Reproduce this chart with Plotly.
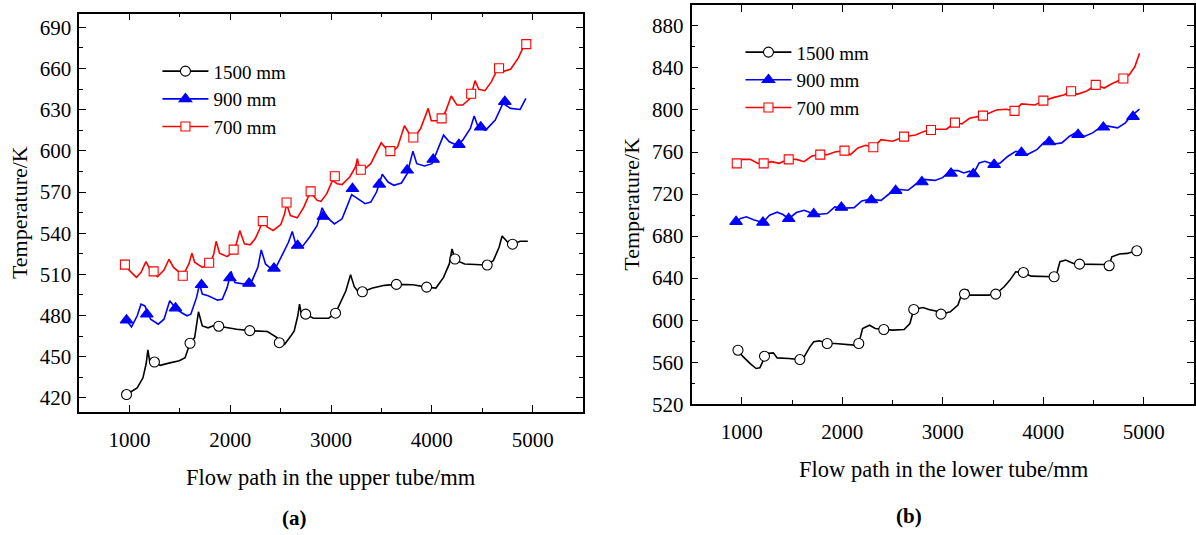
import plotly.graph_objects as go

# ---------------- (a) upper tube ----------------
a_1500_x = [970, 1076, 1133, 1165, 1182, 1200, 1247, 1304, 1400, 1494, 1551, 1600, 1646, 1684, 1722, 1779, 1830, 1885,
            2064, 2193, 2368, 2463, 2486, 2539, 2600, 2634, 2670, 2687, 2710, 2748, 2824, 2976, 3044, 3100, 3147, 3193,
            3230, 3261, 3310, 3413, 3530, 3648, 3812, 3948, 4040, 4116, 4173, 4200, 4229, 4249, 4325, 4534, 4610, 4667,
            4697, 4762, 4800, 4876, 4952]
a_1500_y = [422.4, 427.3, 434.6, 445.0, 454.9, 446.5, 446.1, 443.7, 445.5, 447.0, 449.3, 459.8, 463.9, 482.7, 472.4, 471.0,
            472.5, 472.2, 470.0, 469.0, 468.3, 463.9, 460.2, 459.0, 465.0, 468.8, 480.0, 488.3, 478.5, 481.0, 478.0, 478.0,
            481.7, 490.0, 498.0, 509.8, 501.0, 498.0, 497.3, 500.0, 502.0, 502.7, 502.4, 500.7, 500.0, 507.8, 517.6, 528.5,
            521.2, 520.0, 517.6, 516.8, 520.0, 529.8, 538.0, 532.7, 532.0, 534.1, 534.1]
a_1500_mx = [970, 1247, 1600, 1885, 2193, 2486, 2748, 3044, 3310, 3648, 3948, 4229, 4549, 4800]
a_1500_my = [422.4, 446.1, 459.8, 472.2, 469.0, 460.2, 481.0, 481.7, 497.3, 502.7, 500.7, 521.2, 516.8, 532.0]

a_900_x = [970, 1019, 1076, 1114, 1152, 1209, 1285, 1342, 1399, 1437, 1456, 1513, 1570, 1608, 1665, 1695, 1722, 1779,
           1874, 1920, 1969, 2007, 2045, 2140, 2186, 2216, 2273, 2307, 2349, 2387, 2444, 2520, 2577, 2615, 2653, 2710,
           2786, 2862, 2911, 2957, 3033, 3109, 3166, 3204, 3242, 3337, 3394, 3451, 3508, 3565, 3622, 3698, 3755, 3774,
           3812, 3850, 3926, 4002, 4059, 4116, 4173, 4249, 4306, 4382, 4420, 4458, 4534, 4629, 4705, 4781, 4876, 4933]
a_900_y = [476.6, 471.7, 479.8, 488.3, 487.0, 477.3, 473.7, 477.3, 490.7, 487.0, 485.4, 482.2, 479.8, 481.0, 493.2, 503.0,
           495.6, 494.4, 491.2, 491.9, 500.5, 512.2, 504.1, 502.9, 503.4, 505.4, 515.1, 527.8, 517.6, 515.1, 513.9, 524.9,
           533.4, 541.2, 531.0, 529.8, 537.1, 545.6, 558.5, 551.7, 546.8, 550.5, 561.5, 568.0, 566.3, 561.5, 562.7, 570.0,
           582.9, 577.3, 574.9, 576.6, 583.4, 588.3, 599.8, 590.7, 589.0, 590.7, 600.5, 611.5, 606.6, 604.1, 607.8, 616.3,
           625.4, 617.6, 615.1, 622.4, 634.6, 631.0, 630.2, 638.3]
a_900_mx = [970, 1171, 1456, 1714, 1996, 2186, 2433, 2668, 2923, 3212, 3478, 3755, 4013, 4268, 4485, 4724]
a_900_my = [476.6, 481.0, 485.4, 502.4, 507.3, 503.4, 514.4, 531.0, 552.2, 572.4, 575.6, 585.9, 593.7, 604.6, 617.3, 635.9]

a_700_x = [954, 1000, 1068, 1114, 1163, 1201, 1277, 1342, 1391, 1437, 1494, 1551, 1589, 1619, 1646, 1722, 1798, 1836,
           1859, 1893, 1969, 2033, 2064, 2094, 2140, 2197, 2246, 2292, 2322, 2368, 2425, 2501, 2539, 2558, 2596, 2664,
           2729, 2786, 2816, 2862, 2900, 2957, 3014, 3060, 3109, 3185, 3242, 3261, 3280, 3337, 3394, 3451, 3497, 3546,
           3603, 3660, 3698, 3728, 3774, 3831, 3888, 3934, 3964, 3994, 4078, 4135, 4192, 4249, 4306, 4382, 4428, 4466,
           4527, 4591, 4648, 4705, 4781, 4857, 4914, 4944]
a_700_y = [517.1, 512.7, 507.8, 511.5, 519.3, 513.9, 508.3, 513.2, 521.0, 515.1, 511.5, 512.2, 517.6, 525.4, 518.8, 515.1,
           517.6, 524.9, 534.1, 525.4, 522.9, 526.8, 533.4, 541.9, 532.2, 531.5, 535.9, 543.2, 549.3, 544.4, 542.0, 546.3,
           554.1, 561.5, 552.9, 551.2, 559.0, 568.8, 568.0, 563.9, 563.2, 568.8, 578.5, 576.1, 575.4, 581.0, 588.3, 594.4,
           587.1, 587.1, 590.7, 599.3, 605.9, 601.7, 598.8, 602.9, 611.5, 618.3, 612.7, 610.2, 616.3, 626.1, 631.0, 622.0,
           622.0, 628.5, 640.0, 633.4, 633.4, 638.3, 651.2, 644.9, 643.9, 650.5, 659.0, 657.8, 659.5, 667.6, 676.1, 681.5]
a_700_mx = [954, 1239, 1528, 1790, 2033, 2322, 2558, 2797, 3037, 3295, 3588, 3816, 4097, 4390, 4667, 4937]
a_700_my = [517.1, 512.2, 509.0, 518.5, 528.0, 548.8, 562.4, 570.5, 581.5, 586.3, 599.8, 609.8, 623.7, 641.7, 660.2, 677.8]

# ---------------- (b) lower tube ----------------
b_1500_x = [962, 1008, 1084, 1142, 1180, 1218, 1245, 1314, 1352, 1467, 1578, 1620, 1678, 1716, 1773, 1850, 1926, 2118,
            2164, 2202, 2271, 2328, 2413, 2500, 2615, 2673, 2711, 2804, 2861, 2976, 2983, 3075, 3151, 3197, 3247, 3266,
            3457, 3527, 3611, 3668, 3726, 3802, 3879, 4032, 4108, 4139, 4166, 4223, 4300, 4361, 4453, 4606, 4656, 4682,
            4759, 4836, 4893, 4931]
b_1500_y = [571.4, 565.7, 558.7, 554.0, 554.6, 561.9, 568.3, 568.9, 564.1, 563.5, 562.5, 565.1, 574.6, 579.4, 580.3, 577.8,
            577.8, 576.2, 577.8, 592.1, 595.2, 592.1, 591.1, 590.5, 591.1, 596.8, 610.2, 612.0, 610.2, 607.9, 605.7, 607.9,
            614.3, 627.0, 628.6, 623.8, 623.8, 624.8, 631.8, 638.1, 646.0, 645.4, 641.9, 641.9, 641.3, 646.0, 655.6, 657.2,
            654.0, 653.3, 653.3, 653.0, 651.8, 660.3, 662.9, 663.5, 665.1, 666.0]
b_1500_mx = [962, 1226, 1578, 1850, 2164, 2413, 2711, 2983, 3216, 3527, 3802, 4108, 4361, 4656, 4931]
b_1500_my = [571.4, 565.7, 562.5, 577.8, 577.8, 591.1, 610.2, 605.7, 624.8, 624.8, 645.4, 641.3, 653.3, 651.8, 666.0]

b_900_x = [943, 989, 1046, 1123, 1211, 1276, 1352, 1410, 1467, 1544, 1620, 1678, 1773, 1850, 1926, 2003, 2118, 2194,
           2271, 2386, 2462, 2539, 2654, 2730, 2807, 2922, 2999, 3075, 3151, 3209, 3266, 3304, 3362, 3419, 3511, 3572,
           3649, 3726, 3841, 3937, 4013, 4108, 4185, 4262, 4319, 4415, 4491, 4587, 4644, 4740, 4817, 4874, 4958]
b_900_y = [693.7, 696.8, 698.4, 695.3, 693.0, 699.8, 702.7, 700.5, 696.5, 702.4, 704.6, 702.4, 700.8, 701.4, 707.8, 706.5,
           707.1, 713.5, 715.0, 714.0, 719.8, 724.6, 723.6, 729.3, 734.0, 733.0, 735.6, 742.3, 742.3, 740.1, 741.7, 739.1,
           749.6, 751.2, 748.0, 749.6, 756.0, 760.7, 757.6, 762.3, 769.6, 767.7, 768.7, 775.0, 778.2, 775.0, 778.2, 784.6,
           784.6, 783.0, 787.8, 794.2, 800.7]
b_900_mx = [943, 1211, 1467, 1716, 1991, 2290, 2531, 2792, 3082, 3304, 3511, 3783, 4059, 4346, 4598, 4893]
b_900_my = [693.7, 693.0, 696.5, 701.0, 707.3, 714.3, 723.2, 731.5, 739.7, 739.1, 748.0, 759.4, 769.6, 776.5, 783.5, 793.7]

b_700_x = [950, 1008, 1084, 1161, 1218, 1295, 1371, 1467, 1544, 1620, 1697, 1781, 1850, 1926, 2022, 2080, 2156, 2233,
           2309, 2386, 2500, 2615, 2730, 2807, 2883, 3037, 3121, 3190, 3266, 3400, 3534, 3630, 3714, 3783, 3917, 4001,
           4108, 4204, 4277, 4338, 4434, 4522, 4606, 4682, 4797, 4855, 4912, 4958]
b_700_y = [749.2, 753.0, 753.0, 749.2, 749.2, 750.8, 749.2, 753.0, 753.0, 750.8, 756.2, 757.5, 757.5, 760.0, 761.3, 757.5,
           763.9, 766.4, 764.5, 771.8, 770.2, 774.6, 776.2, 779.4, 781.7, 781.7, 788.0, 786.7, 792.1, 794.6, 800.0, 800.7,
           799.1, 805.8, 804.8, 808.9, 812.0, 814.3, 817.8, 814.9, 818.1, 823.9, 820.9, 825.0, 829.9, 833.4, 841.3, 854.0]
b_700_mx = [950, 1218, 1467, 1781, 2022, 2309, 2615, 2883, 3121, 3400, 3714, 4001, 4277, 4522, 4797]
b_700_my = [749.2, 749.2, 753.0, 757.5, 761.3, 764.5, 774.6, 781.0, 788.0, 794.6, 799.1, 808.9, 817.8, 823.9, 829.9]

series_names = ["1500 mm", "900 mm", "700 mm"]
colors = ["#000000", "#0000FF", "#FF0000"]
symbols = ["circle", "triangle-up", "square"]
fills = ["#FFFFFF", "#0000FF", "#FFFFFF"]
msizes = [10, 11, 9]

FONT = "Liberation Serif"

fig = go.Figure()

def add_series(xl, yl, xm, ym, k, xa, ya, legend_name):
    fig.add_trace(go.Scatter(x=xl, y=yl, mode="lines", xaxis=xa, yaxis=ya,
                             line=dict(color=colors[k], width=1.6), showlegend=False, hoverinfo="skip"))
    fig.add_trace(go.Scatter(x=xm, y=ym, mode="markers", xaxis=xa, yaxis=ya, showlegend=False,
                             marker=dict(symbol=symbols[k], size=msizes[k], color=fills[k],
                                         line=dict(color=colors[k], width=1.1))))
    fig.add_trace(go.Scatter(x=[None], y=[None], mode="lines+markers", xaxis=xa, yaxis=ya,
                             name=series_names[k], legend=legend_name,
                             line=dict(color=colors[k], width=1.6),
                             marker=dict(symbol=symbols[k], size=msizes[k], color=fills[k],
                                         line=dict(color=colors[k], width=1.1))))

add_series(a_1500_x, a_1500_y, a_1500_mx, a_1500_my, 0, "x", "y", "legend")
add_series(a_900_x, a_900_y, a_900_mx, a_900_my, 1, "x", "y", "legend")
add_series(a_700_x, a_700_y, a_700_mx, a_700_my, 2, "x", "y", "legend")
add_series(b_1500_x, b_1500_y, b_1500_mx, b_1500_my, 0, "x2", "y2", "legend2")
add_series(b_900_x, b_900_y, b_900_mx, b_900_my, 1, "x2", "y2", "legend2")
add_series(b_700_x, b_700_y, b_700_mx, b_700_my, 2, "x2", "y2", "legend2")

W, H = 1196, 535

def axis_common(**kw):
    d = dict(showline=True, linecolor="black", linewidth=1.5, mirror="allticks",
             ticks="inside", ticklen=7, tickwidth=1.3, tickcolor="black",
             showgrid=False, zeroline=False,
             tickfont=dict(family=FONT, size=21, color="black"),
             minor=dict(ticks="inside", ticklen=4, tickwidth=1.2, tickcolor="black", showgrid=False))
    d.update(kw)
    return d

xa = axis_common(range=[500, 5500], dtick=1000, tick0=0, domain=[79.3 / W, 584 / W], anchor="y",
                 ticklabelstandoff=8)
xa["minor"]["dtick"] = 500
ya = axis_common(range=[410, 700], dtick=30, tick0=0, domain=[(H - 421) / H, (H - 14) / H], anchor="x",
                 ticklabelstandoff=2)
ya["minor"]["dtick"] = 15
xa2 = axis_common(range=[500, 5500], dtick=1000, tick0=0, domain=[692.7 / W, 1.0], anchor="y2",
                  ticklabelstandoff=8)
xa2["minor"]["dtick"] = 500
ya2 = axis_common(range=[520, 900], dtick=40, tick0=0, domain=[(H - 413.5) / H, (H - 5) / H], anchor="x2",
                  ticklabelstandoff=2)
ya2["minor"]["dtick"] = 20

legend_common = dict(font=dict(family=FONT, size=19, color="black"), bgcolor="rgba(0,0,0,0)",
                     borderwidth=0, itemwidth=46, xanchor="left", yanchor="top",
                     itemclick=False, itemdoubleclick=False)

fig.update_layout(
    width=W, height=H, margin=dict(l=0, r=0, t=0, b=0),
    paper_bgcolor="white", plot_bgcolor="white",
    xaxis=xa, yaxis=ya, xaxis2=xa2, yaxis2=ya2,
    legend=dict(x=157.7 / W, y=(H - 53.5) / H, **legend_common),
    legend2=dict(x=741.7 / W, y=(H - 34) / H, **legend_common),
    annotations=[
        dict(text="Flow path in the upper tube/mm", x=331.5 / W, y=(H - 488) / H, xref="paper", yref="paper",
             showarrow=False, font=dict(family=FONT, size=22.5, color="black"), xanchor="center", yanchor="middle"),
        dict(text="Temperature/K", x=19 / W, y=(H - 217) / H, xref="paper", yref="paper", textangle=-90,
             showarrow=False, font=dict(family=FONT, size=22, color="black"), xanchor="center", yanchor="middle"),
        dict(text="Flow path in the lower tube/mm", x=945.6 / W, y=(H - 480) / H, xref="paper", yref="paper",
             showarrow=False, font=dict(family=FONT, size=22.5, color="black"), xanchor="center", yanchor="middle"),
        dict(text="Temperature/K", x=632.5 / W, y=(H - 209) / H, xref="paper", yref="paper", textangle=-90,
             showarrow=False, font=dict(family=FONT, size=22, color="black"), xanchor="center", yanchor="middle"),
        dict(text="<b>(a)</b>", x=294.5 / W, y=(H - 530) / H, xref="paper", yref="paper",
             showarrow=False, font=dict(family=FONT, size=21, color="black"), xanchor="center", yanchor="middle"),
        dict(text="<b>(b)</b>", x=911 / W, y=(H - 528) / H, xref="paper", yref="paper",
             showarrow=False, font=dict(family=FONT, size=21, color="black"), xanchor="center", yanchor="middle"),
    ],
)

fig.write_html("out.html")
